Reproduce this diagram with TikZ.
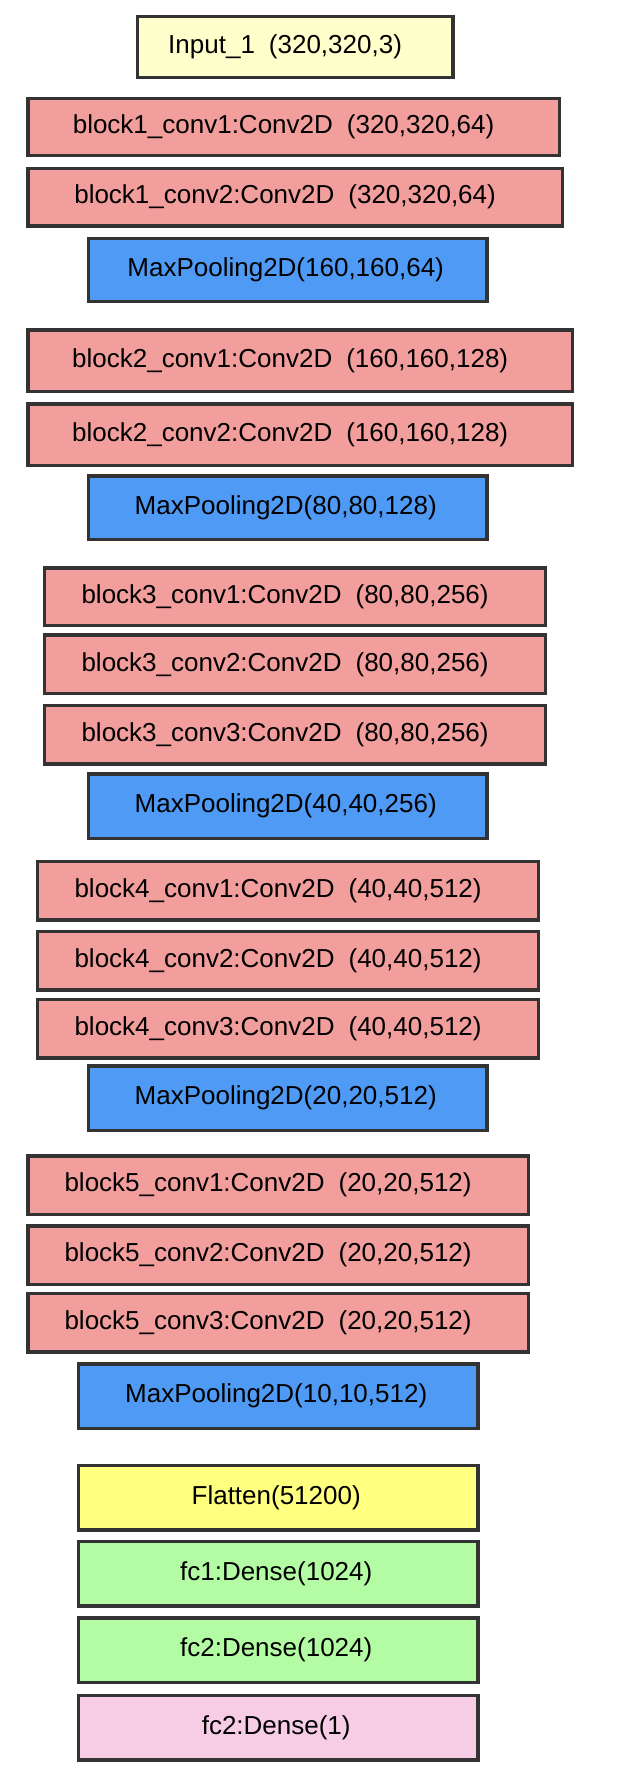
\documentclass[tikz,border=0pt]{standalone}
\usepackage{fontspec}
\setmainfont{Liberation Sans}
\definecolor{bordergray}{HTML}{333333}
\definecolor{inputfill}{HTML}{FFFFCC}
\definecolor{convfill}{HTML}{F19E9C}
\definecolor{poolfill}{HTML}{4E9AF5}
\definecolor{flatfill}{HTML}{FFFF80}
\definecolor{densefill}{HTML}{B3FCA3}
\definecolor{outfill}{HTML}{F7CDE6}
\newcommand{\gapp}{\hspace{14pt}}
\newcommand{\shl}{\hspace*{20pt}}
\newcommand{\shs}{\hspace*{4pt}}
\begin{document}
\begin{tikzpicture}[x=1pt,y=-1pt,
  layer/.style={draw=bordergray, line width=3.5pt, inner sep=0pt, anchor=center,
    font=\fontsize{26pt}{30pt}\selectfont},
  inputbox/.style={layer, fill=inputfill},
  convbox/.style={layer, fill=convfill},
  poolbox/.style={layer, fill=poolfill},
  flatbox/.style={layer, fill=flatfill},
  densebox/.style={layer, fill=densefill},
  outbox/.style={layer, fill=outfill}]
\useasboundingbox (0,0) rectangle (642,1788);
\fill[white] (0,0) rectangle (642,1788);
\node[inputbox, minimum width=315.7pt, minimum height=61.1pt] (in) at (295.1,47) {Input\_1\gapp(320,320,3)\shl};
\node[convbox, minimum width=531.6pt, minimum height=57.1pt] (b1c1) at (293.6,127) {block1\_conv1:Conv2D\gapp(320,320,64)\shl};
\node[convbox, minimum width=534.5pt, minimum height=57.5pt] (b1c2) at (295.1,197.2) {block1\_conv2:Conv2D\gapp(320,320,64)\shl};
\node[poolbox, minimum width=398.8pt, minimum height=63.1pt] (mp1) at (287.7,270) {MaxPooling2D(160,160,64)\shs};
\node[convbox, minimum width=544.7pt, minimum height=61.8pt] (b2c1) at (300.2,360.7) {block2\_conv1:Conv2D\gapp(160,160,128)\shl};
\node[convbox, minimum width=544.7pt, minimum height=61.8pt] (b2c2) at (300.2,434.7) {block2\_conv2:Conv2D\gapp(160,160,128)\shl};
\node[poolbox, minimum width=398.8pt, minimum height=63.8pt] (mp2) at (287.7,507.7) {MaxPooling2D(80,80,128)\shs};
\node[convbox, minimum width=501pt, minimum height=57.8pt] (b3c1) at (295.1,596.7) {block3\_conv1:Conv2D\gapp(80,80,256)\shl};
\node[convbox, minimum width=501pt, minimum height=58.5pt] (b3c2) at (295.1,664.3) {block3\_conv2:Conv2D\gapp(80,80,256)\shl};
\node[convbox, minimum width=501pt, minimum height=58.2pt] (b3c3) at (295.1,734.8) {block3\_conv3:Conv2D\gapp(80,80,256)\shl};
\node[poolbox, minimum width=398.8pt, minimum height=64.5pt] (mp3) at (287.7,806) {MaxPooling2D(40,40,256)\shs};
\node[convbox, minimum width=501pt, minimum height=58.2pt] (b4c1) at (288.1,890.8) {block4\_conv1:Conv2D\gapp(40,40,512)\shl};
\node[convbox, minimum width=501pt, minimum height=58.2pt] (b4c2) at (288.1,960.8) {block4\_conv2:Conv2D\gapp(40,40,512)\shl};
\node[convbox, minimum width=501pt, minimum height=58.2pt] (b4c3) at (288.1,1028.8) {block4\_conv3:Conv2D\gapp(40,40,512)\shl};
\node[poolbox, minimum width=398.8pt, minimum height=64.5pt] (mp4) at (287.7,1098) {MaxPooling2D(20,20,512)\shs};
\node[convbox, minimum width=500.6pt, minimum height=58.5pt] (b5c1) at (278.1,1185) {block5\_conv1:Conv2D\gapp(20,20,512)\shl};
\node[convbox, minimum width=500.6pt, minimum height=58.5pt] (b5c2) at (278.1,1255) {block5\_conv2:Conv2D\gapp(20,20,512)\shl};
\node[convbox, minimum width=500.6pt, minimum height=58.2pt] (b5c3) at (278.1,1322.8) {block5\_conv3:Conv2D\gapp(20,20,512)\shl};
\node[poolbox, minimum width=399.3pt, minimum height=64.5pt] (mp5) at (278.2,1396) {MaxPooling2D(10,10,512)\shs};
\node[flatbox, minimum width=399.3pt, minimum height=64.2pt] (flat) at (278.2,1497.8) {Flatten(51200)\shs};
\node[densebox, minimum width=399.3pt, minimum height=64.2pt] (fc1) at (278.2,1573.8) {fc1:Dense(1024)\shs};
\node[densebox, minimum width=399.3pt, minimum height=64.5pt] (fc2) at (278.2,1650) {fc2:Dense(1024)\shs};
\node[outbox, minimum width=399.3pt, minimum height=64.2pt] (fc3) at (278.2,1727.8) {fc2:Dense(1)\shs};
\end{tikzpicture}
\end{document}
